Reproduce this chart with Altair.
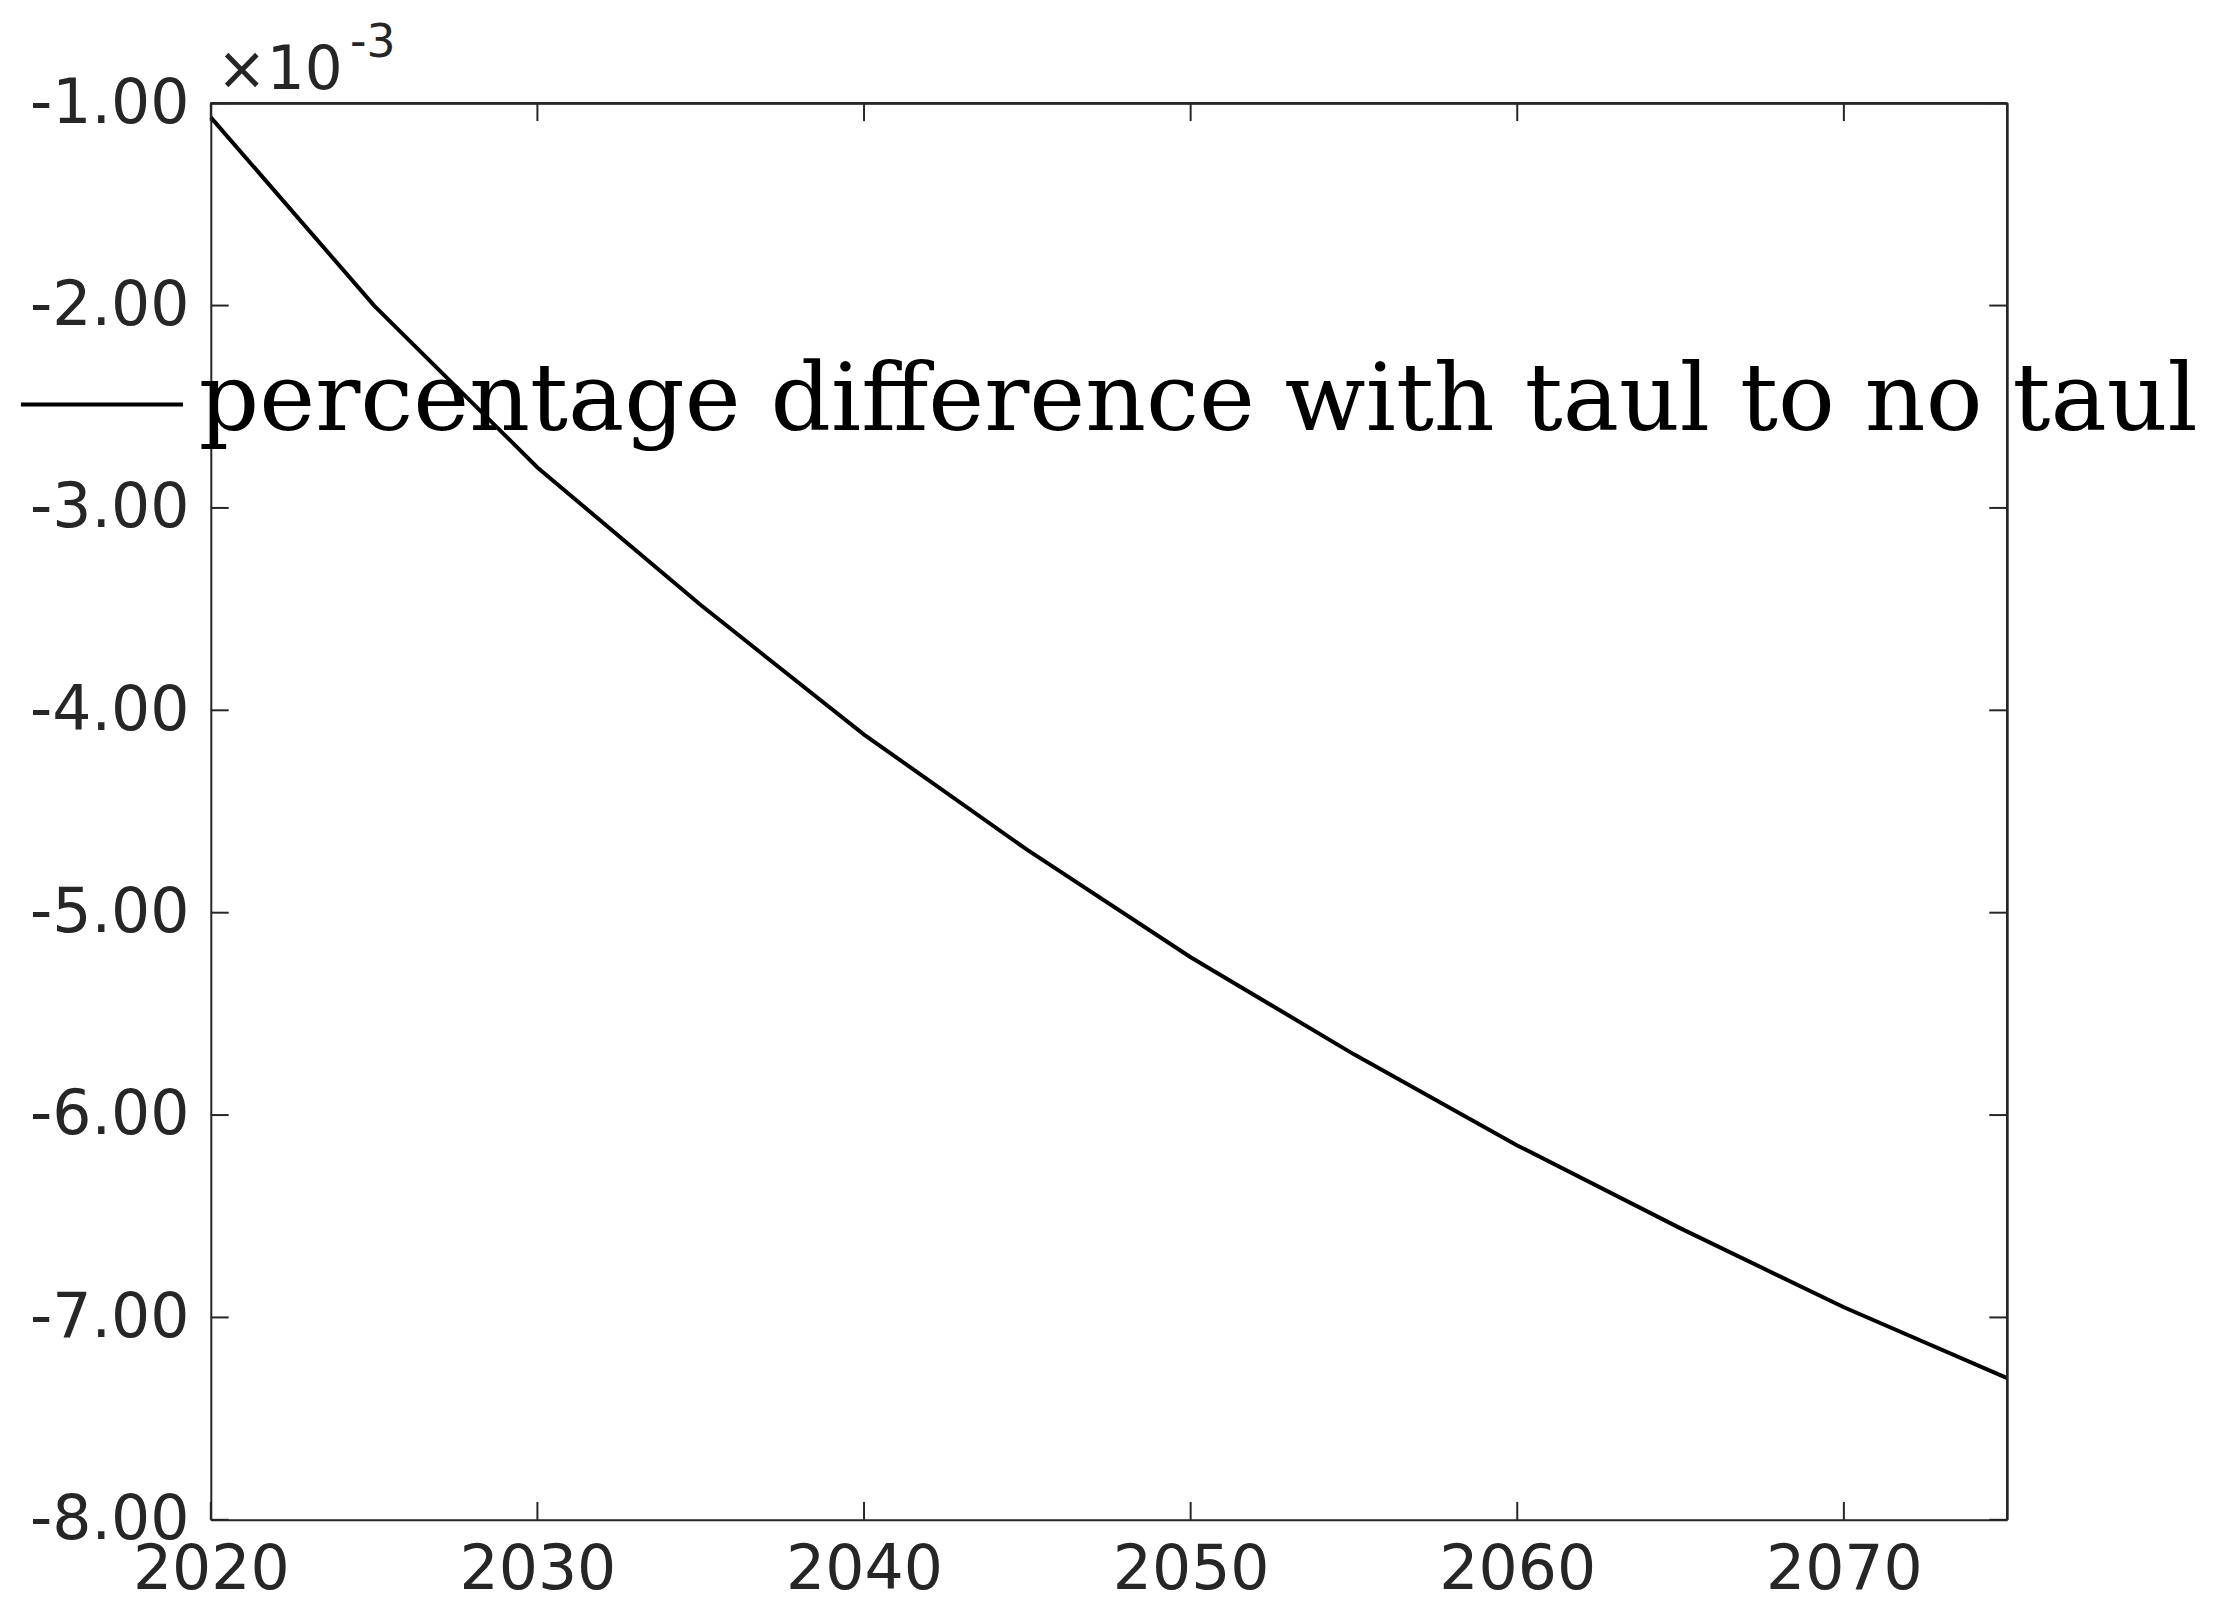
import pandas as pd
import altair as alt

years = [2020, 2025, 2030, 2035, 2040, 2045, 2050, 2055, 2060, 2065, 2070, 2075]
diff = [-1.07, -2.0, -2.8, -3.48, -4.12, -4.69, -5.22, -5.70, -6.15, -6.56, -6.95, -7.30]
x_ticks = [2020, 2030, 2040, 2050, 2060, 2070]
y_ticks = [-1, -2, -3, -4, -5, -6, -7, -8]
series = "percentage difference with taul to no taul"

W, H = 1807, 1425
TICK = 18
df = pd.DataFrame({"year": years, "diff": diff})

xs = alt.Scale(domain=[2020, 2075], nice=False)
ys = alt.Scale(domain=[-8, -1], nice=False)

base_font = "DejaVu Sans"

line = alt.Chart(df).mark_line(color="black", strokeWidth=4).encode(
    x=alt.X("year:Q", scale=xs, title=None,
            axis=alt.Axis(values=x_ticks, format="d", tickSize=0, labelFontSize=62,
                          labelColor="#262626", labelFont=base_font, domainColor="#262626",
                          domainWidth=2, labelPadding=20, grid=False, labelFlush=False)),
    y=alt.Y("diff:Q", scale=ys, title=None,
            axis=alt.Axis(values=y_ticks, tickSize=0, labelFontSize=62,
                          labelExpr="(datum.value < 0 ? '-' : '') + format(abs(datum.value), '.2f')",
                          labelLimit=500,
                          labelColor="#262626", labelFont=base_font, domainColor="#262626",
                          domainWidth=2, labelPadding=22, grid=False, labelFlush=False)),
)

xt = pd.DataFrame({"year": x_ticks})
yt = pd.DataFrame({"v": y_ticks})
tick_style = dict(color="#262626", strokeWidth=2)
xb = alt.Chart(xt).mark_rule(**tick_style).encode(x=alt.X("year:Q", scale=xs), y=alt.value(H), y2=alt.value(H - TICK))
xtp = alt.Chart(xt).mark_rule(**tick_style).encode(x=alt.X("year:Q", scale=xs), y=alt.value(0), y2=alt.value(TICK))
yl = alt.Chart(yt).mark_rule(**tick_style).encode(y=alt.Y("v:Q", scale=ys), x=alt.value(0), x2=alt.value(TICK))
yr = alt.Chart(yt).mark_rule(**tick_style).encode(y=alt.Y("v:Q", scale=ys), x=alt.value(W), x2=alt.value(W - TICK))
top = alt.Chart(xt).mark_rule(**tick_style).encode(x=alt.value(0), x2=alt.value(W), y=alt.value(0))
right = alt.Chart(xt).mark_rule(**tick_style).encode(x=alt.value(W), y=alt.value(0), y2=alt.value(H))

one = xt.head(1)
exp1 = alt.Chart(one).mark_text(text="×10", fontSize=60, font=base_font, color="#262626",
                                align="left", baseline="alphabetic").encode(
    x=alt.value(6), y=alt.value(-14))
exp2 = alt.Chart(one).mark_text(text="-3", fontSize=46, font=base_font, color="#262626",
                                align="left", baseline="alphabetic").encode(
    x=alt.value(140), y=alt.value(-46))

leg_line = alt.Chart(one).mark_rule(color="black", strokeWidth=4).encode(
    x=alt.value(-191), x2=alt.value(-28), y=alt.value(303))
leg_text = alt.Chart(one).mark_text(text=series, fontSize=95, font="DejaVu Serif", color="black",
                                    align="left", baseline="middle").encode(
    x=alt.value(-12), y=alt.value(300))

chart = alt.layer(line, xb, xtp, yl, yr, top, right, exp1, exp2, leg_line, leg_text).properties(
    width=W, height=H,
    autosize=alt.AutoSizeParams(type="none"),
    padding={"left": 204, "top": 91, "right": 200, "bottom": 90},
).configure_view(stroke=None).configure(background="white")

chart.save("out.html", embed_options={"renderer": "svg", "actions": False})
